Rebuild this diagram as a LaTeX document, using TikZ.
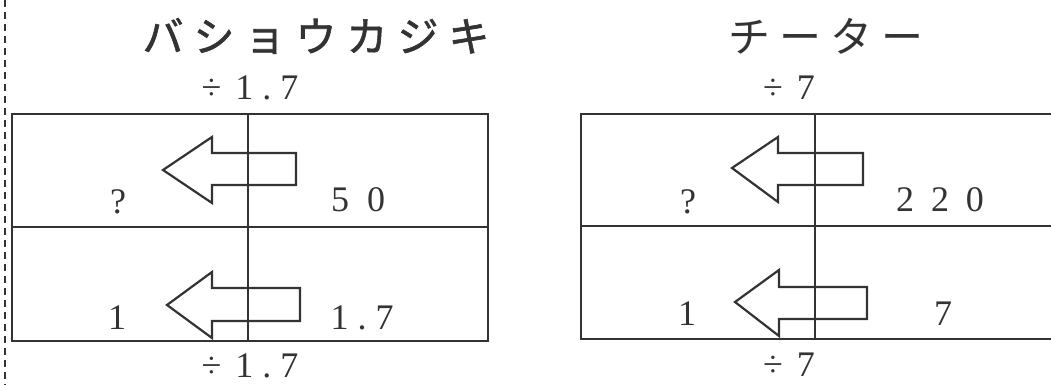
\documentclass[tikz,border=0pt]{standalone}
\usepackage{fontspec}
\setmainfont{Liberation Serif}
\newfontfamily\cjk{Noto Sans CJK JP}
\newfontfamily\cjkb{Noto Sans CJK JP}[FakeBold=1.5]
\definecolor{ink}{HTML}{333333}
\tikzset{
  frame/.style={draw=ink, line width=2.6pt},
  arr/.style={draw=ink, line width=2.2pt, line join=miter},
  num/.style={text=ink, font=\fontsize{36}{36}\selectfont, inner sep=0pt},
  ttl/.style={text=ink, inner sep=0pt},
}
\begin{document}
\begin{tikzpicture}[x=1pt,y=-1pt]
\useasboundingbox (0,0) rectangle (1051,385);
\clip (0,0) rectangle (1051,385);
% dashed margin line
\coordinate (dt) at (5,0);
\coordinate (db) at (5,385);
\draw[ink, line width=2.8pt, dash pattern=on 7pt off 5pt] (dt) -- (db);

% titles
\node[ttl, font=\cjkb\fontsize{41}{41}\selectfont] (t1) at (316,36) {バ\kern10pt シ\kern10pt ョ\kern10pt ウ\kern10pt カ\kern10pt ジ\kern10pt キ};
\node[ttl, font=\cjk\fontsize{42}{42}\selectfont] (t2) at (826,36) {チ\kern9pt ー\kern9pt タ\kern9pt ー};

% left box
\coordinate (L1) at (12,114); \coordinate (L2) at (488,341);
\draw[frame] (L1) rectangle (L2);
\coordinate (Lm1) at (12,227); \coordinate (Lm2) at (488,227);
\draw[frame] (Lm1) -- (Lm2);
\coordinate (Lv1) at (248,114); \coordinate (Lv2) at (248,341);
\draw[frame] (Lv1) -- (Lv2);

% right box
\coordinate (R1) at (581,114); \coordinate (R2) at (1070,339);
\draw[frame] (R1) rectangle (R2);
\coordinate (Rm1) at (581,226); \coordinate (Rm2) at (1070,226);
\draw[frame] (Rm1) -- (Rm2);
\coordinate (Rv1) at (815,114); \coordinate (Rv2) at (815,339);
\draw[frame] (Rv1) -- (Rv2);

% arrows (left-pointing block arrows)
\draw[arr] (163,170) -- (212,137) -- (212,153) -- (296,153) -- (296,185) -- (212,185) -- (212,203) -- cycle;
\draw[arr] (167,305) -- (212,272) -- (212,288) -- (300,288) -- (300,321) -- (212,321) -- (212,338) -- cycle;
\draw[arr] (732,168) -- (778,137) -- (778,153) -- (863,153) -- (863,185) -- (778,185) -- (778,202) -- cycle;
\draw[arr] (735,302) -- (779,270) -- (779,287) -- (867,287) -- (867,319) -- (779,319) -- (779,336) -- cycle;

% labels
\node[num] (a1) at (250,88) {÷\kern14pt 1\kern9pt .\kern9pt 7};
\node[num] (a2) at (250,366) {÷\kern14pt 1\kern9pt .\kern9pt 7};
\node[num] (b1) at (789,88) {÷\kern14pt 7};
\node[num] (b2) at (789,365) {÷\kern14pt 7};

\node[num] (q1) at (118,202) {?};
\node[num] (n50) at (358,200) {5\kern18pt 0};
\node[num] (o1) at (117,318) {1};
\node[num] (n17) at (362,318) {1\kern9pt .\kern9pt 7};

\node[num] (q2) at (688,202) {?};
\node[num] (n220) at (940,200) {2\kern17pt 2\kern17pt 0};
\node[num] (o2) at (687,314) {1};
\node[num] (n7) at (943,314) {7};
\end{tikzpicture}
\end{document}
